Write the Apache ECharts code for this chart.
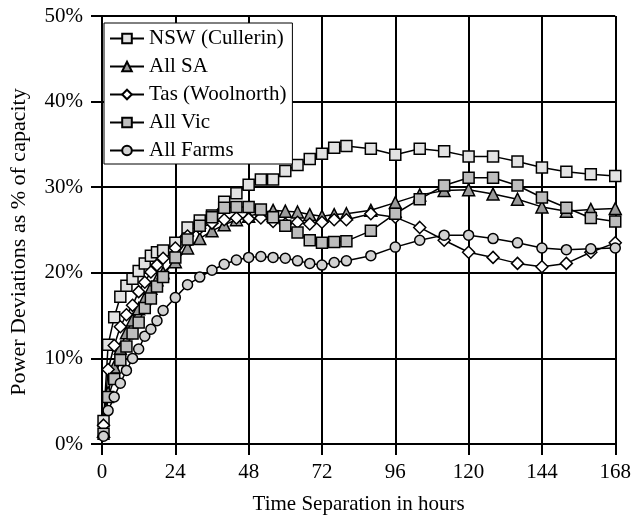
<!DOCTYPE html>
<html>
<head>
<meta charset="utf-8">
<script src="https://cdn.jsdelivr.net/npm/echarts@6/dist/echarts.min.js"></script>
<style>
html, body { margin: 0; padding: 0; background: #fff; }
#chart { width: 634px; height: 520px; }
</style>
</head>
<body>
<div id="chart"></div>
<script>
// time separation (hours)
var hours = [0.5, 2, 4, 6, 8, 10, 12, 14, 16, 18, 20, 24, 28, 32, 36, 40, 44, 48, 52, 56, 60, 64, 68, 72, 76, 80, 88, 96, 104, 112, 120, 128, 136, 144, 152, 160, 168];

// power deviations, % of capacity
var nsw = [2.7, 11.6, 14.8, 17.2, 18.5, 19.3, 20.2, 21.1, 22.0, 22.4, 22.6, 23.5, 25.3, 26.1, 26.7, 28.3, 29.3, 30.3, 30.9, 30.9, 31.9, 32.6, 33.3, 33.9, 34.6, 34.8, 34.5, 33.8, 34.5, 34.2, 33.6, 33.6, 33.0, 32.3, 31.8, 31.5, 31.3];
var sa = [1.5, 6.0, 9.0, 11.2, 13.0, 14.5, 15.8, 17.0, 18.2, 19.2, 20.0, 21.3, 22.9, 24.0, 24.9, 25.6, 26.2, 26.6, 27.0, 27.3, 27.2, 27.1, 26.8, 26.6, 26.8, 26.9, 27.3, 28.2, 29.1, 29.6, 29.7, 29.2, 28.6, 27.7, 27.2, 27.4, 27.5];
var tas = [2.2, 8.7, 11.5, 13.7, 15.1, 16.2, 17.8, 18.9, 20.1, 20.9, 21.7, 22.9, 24.3, 25.2, 25.8, 26.2, 26.4, 26.3, 26.4, 26.0, 25.7, 25.9, 25.7, 25.9, 26.2, 26.2, 26.9, 26.5, 25.3, 23.8, 22.4, 21.8, 21.1, 20.7, 21.1, 22.4, 23.5];
var vic = [1.2, 5.5, 7.6, 9.8, 11.4, 12.9, 14.2, 15.9, 17.0, 18.4, 19.5, 21.8, 23.9, 25.5, 26.5, 27.6, 27.7, 27.7, 27.4, 26.5, 25.5, 24.7, 23.8, 23.5, 23.6, 23.7, 24.9, 26.9, 28.6, 30.2, 31.1, 31.1, 30.2, 28.8, 27.6, 26.4, 26.0];
var farms = [0.9, 3.9, 5.5, 7.1, 8.6, 10.0, 11.1, 12.6, 13.4, 14.4, 15.6, 17.1, 18.6, 19.5, 20.3, 21.0, 21.5, 21.8, 21.9, 21.8, 21.7, 21.4, 21.1, 20.9, 21.2, 21.4, 22.0, 23.0, 23.8, 24.4, 24.4, 24.0, 23.5, 22.9, 22.7, 22.8, 22.9];

var FONT = 'Liberation Serif';

function pairs(vals) {
	return hours.map(function (h, i) { return [h, vals[i]]; });
}

function makeSeries(name, vals, symbol, size, fill) {
	return {
		name: name,
		type: 'line',
		data: pairs(vals),
		symbol: symbol,
		symbolSize: size,
		showSymbol: true,
		animation: false,
		lineStyle: { color: '#000', width: 1.5 },
		itemStyle: { color: fill, borderColor: '#000', borderWidth: 1.5 }
	};
}

var myChart = echarts.init(document.getElementById('chart'));
var option = {
	backgroundColor: '#fff',
	animation: false,
	textStyle: { fontFamily: FONT, color: '#000' },
	grid: { left: 100, right: 16, top: 16, bottom: 71 },
	legend: {
		orient: 'vertical',
		left: 104,
		top: 23,
		padding: [5, 6, 3, 5],
		itemWidth: 34,
		itemHeight: 12,
		itemGap: 7,
		backgroundColor: '#fff',
		borderColor: '#000',
		borderWidth: 1,
		textStyle: { fontFamily: FONT, fontSize: 21, color: '#000' }
	},
	xAxis: {
		type: 'value',
		min: 0,
		max: 168,
		interval: 24,
		name: 'Time Separation in hours',
		nameLocation: 'middle',
		nameGap: 50,
		nameTextStyle: { fontFamily: FONT, fontSize: 21, color: '#000' },
		axisLine: { lineStyle: { color: '#000', width: 2 } },
		axisTick: { show: true, length: 11, lineStyle: { color: '#000', width: 2 } },
		axisLabel: { margin: 18, fontFamily: FONT, fontSize: 21, color: '#000' },
		splitLine: { show: true, lineStyle: { color: '#000', width: 2 } }
	},
	yAxis: {
		type: 'value',
		min: 0,
		max: 50,
		interval: 10,
		name: 'Power Deviations as % of capacity',
		nameLocation: 'middle',
		nameGap: 72,
		nameTextStyle: { fontFamily: FONT, fontSize: 22, color: '#000', padding: [0, 24, 0, 0] },
		axisLine: { show: true, lineStyle: { color: '#000', width: 2 } },
		axisTick: { show: true, length: 11, lineStyle: { color: '#000', width: 2 } },
		axisLabel: { margin: 19, fontFamily: FONT, fontSize: 21, color: '#000', formatter: '{value}%' },
		splitLine: { show: true, lineStyle: { color: '#000', width: 2 } }
	},
	series: [
		makeSeries('NSW (Cullerin)', nsw, 'rect', 11, '#e3e3e3'),
		makeSeries('All SA', sa, 'triangle', 12, '#9a9a9a'),
		makeSeries('Tas (Woolnorth)', tas, 'diamond', 12, '#ffffff'),
		makeSeries('All Vic', vic, 'rect', 11, '#bdbdbd'),
		makeSeries('All Farms', farms, 'circle', 10, '#d2d2d2')
	]
};
myChart.setOption(option);
window.addEventListener('resize', function () {
	myChart.resize();
});
</script>
</body>
</html>
